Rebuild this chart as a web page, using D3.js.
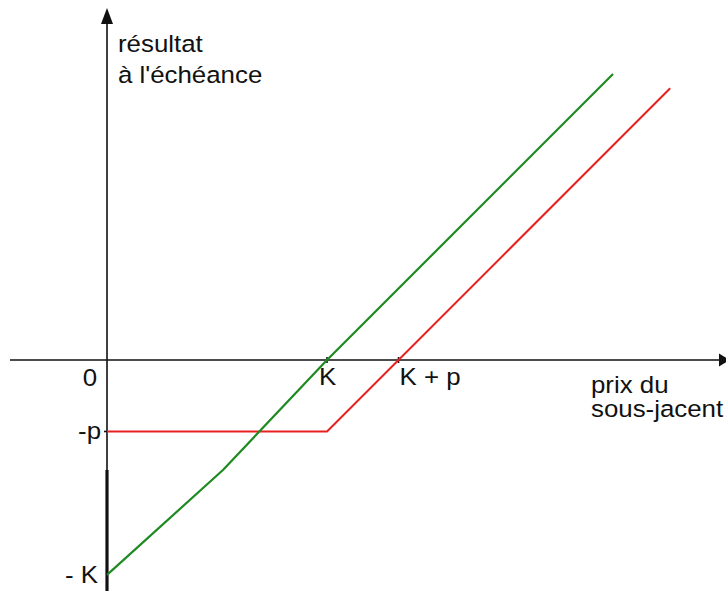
<!DOCTYPE html>
<html>
<head>
<meta charset="utf-8">
<script src="https://cdn.jsdelivr.net/npm/d3@7/dist/d3.min.js"></script>
<style>
  html, body { margin: 0; padding: 0; background: #fff; }
  svg { display: block; }
</style>
</head>
<body>
<script>
// Payoff at expiry of a call (premium p, strike K) versus the underlying
const K = 10;
const p = 3.25;

// underlying: bought at K, payoff S - K
const underlyingPts = [[0, -9.77], [5.27, -5.0], [K, 0], [23.0, 13.0]];
// call option: -p below K, then S - K - p
const callPts = [[0, -p], [K, -p], [K + p, 0], [25.6, 12.35]];

const xTicks = [
  { v: 0, label: "0" },
  { v: K, label: "K" },
  { v: K + p, label: "K + p" }
];
const yTicks = [
  { v: -p, label: "-p" },
  { v: -9.77, label: "- K" }
];
const yTitle = ["résultat", "à l'échéance"];
const xTitle = ["prix du", "sous-jacent"];

const W = 726, H = 591;
const x = d3.scaleLinear().domain([0, 10]).range([107, 327]);
const y = d3.scaleLinear().domain([0, 10]).range([360, 140]);

const svg = d3.select("body").append("svg")
  .attr("width", W).attr("height", H)
  .style("font-family", "Liberation Sans, Arial, sans-serif");

const ink = "#111";

// axes
svg.append("line")
  .attr("x1", 10).attr("x2", 720).attr("y1", y(0)).attr("y2", y(0))
  .attr("stroke", ink).attr("stroke-width", 1.6);
svg.append("line")
  .attr("x1", x(0)).attr("x2", x(0)).attr("y1", 22).attr("y2", H)
  .attr("stroke", ink).attr("stroke-width", 1.6);
// thick part of the vertical axis, from the kink level down
svg.append("line")
  .attr("x1", x(0)).attr("x2", x(0)).attr("y1", y(-5.0)).attr("y2", H)
  .attr("stroke", ink).attr("stroke-width", 3.2);

// arrow heads
svg.append("path")
  .attr("d", `M${x(0)},8 L${x(0) - 6},24 L${x(0) + 6},24 Z`)
  .attr("fill", ink);
svg.append("path")
  .attr("d", `M730,${y(0)} L719,${y(0) - 6.5} L719,${y(0) + 6.5} Z`)
  .attr("fill", ink);

// tick marks on the horizontal axis
[K, K + p].forEach(v => {
  svg.append("line")
    .attr("x1", x(v)).attr("x2", x(v))
    .attr("y1", y(0) - 3).attr("y2", y(0) + 3)
    .attr("stroke", ink).attr("stroke-width", 1.6);
});
svg.append("line")
  .attr("x1", x(0) - 3).attr("x2", x(0))
  .attr("y1", y(-p)).attr("y2", y(-p))
  .attr("stroke", ink).attr("stroke-width", 1.6);

const line = d3.line().x(d => x(d[0])).y(d => y(d[1]));

svg.append("path")
  .datum(callPts)
  .attr("d", line)
  .attr("fill", "none")
  .attr("stroke", "#e8211f")
  .attr("stroke-width", 2)
  .attr("stroke-linejoin", "round");

svg.append("path")
  .datum(underlyingPts)
  .attr("d", line)
  .attr("fill", "none")
  .attr("stroke", "#1f8a22")
  .attr("stroke-width", 2.2)
  .attr("stroke-linejoin", "round");

// text helper: slightly widened glyphs
function label(tx, ty, str, anchor) {
  svg.append("text")
    .attr("transform", `translate(${tx},${ty}) scale(1.1,1)`)
    .attr("text-anchor", anchor || "start")
    .attr("font-size", 23.5)
    .attr("fill", "#111")
    .text(str);
}

// horizontal axis labels
label(x(0) - 10, 386, xTicks[0].label, "end");
label(x(K) - 8, 385, xTicks[1].label);
label(x(K + p) + 1, 385, xTicks[2].label);

// vertical axis labels
label(x(0) - 6, y(yTicks[0].v) + 7, yTicks[0].label, "end");
label(x(0) - 9, y(yTicks[1].v) + 8, yTicks[1].label, "end");

// axis titles
label(118, 52, yTitle[0]);
label(118, 83, yTitle[1]);
label(591, 393, xTitle[0]);
label(591, 417, xTitle[1]);
</script>
</body>
</html>
